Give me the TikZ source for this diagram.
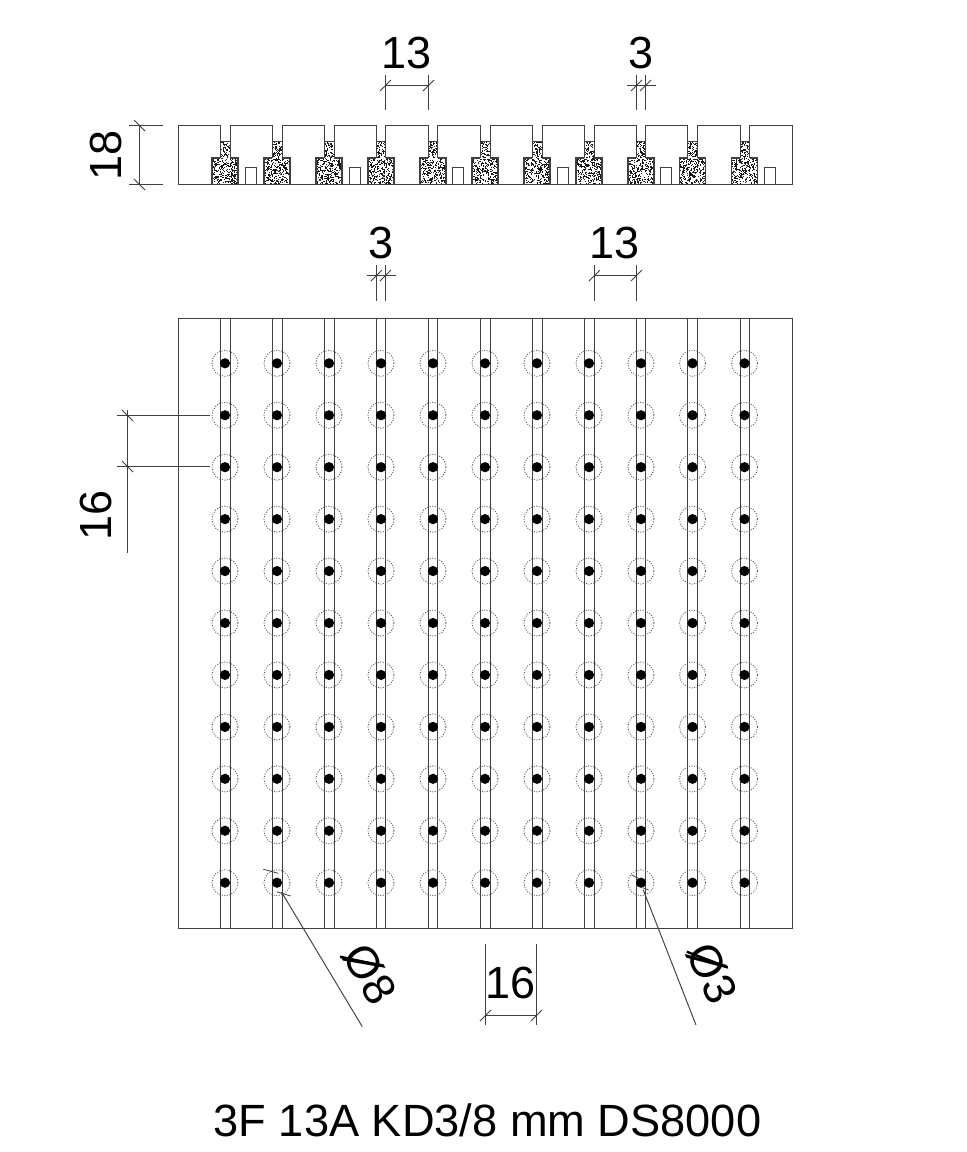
\documentclass[tikz,border=0pt]{standalone}
\usepackage{fontspec}
\setmainfont{Liberation Sans}
\definecolor{ink}{HTML}{404040}
\tikzset{
  outline/.style={draw=ink,line width=1.35pt},
  thin dim/.style={draw=ink,line width=0.95pt},
  tickmark/.style={draw=ink,line width=0.8pt},
  hole ring/.style={draw=black!65,line width=0.85pt,dash pattern=on 1pt off 1.5pt},
  hole dot/.style={fill=black},
  big/.style={inner sep=0pt,font=\fontsize{45}{50}\selectfont,text=black},
  title text/.style={inner sep=0pt,font=\fontsize{45.2}{50}\selectfont,text=black},
  slash/.style={draw=black,line width=2.4pt}
}
\newcommand{\stipple}[4]{%
  \pgfmathsetmacro{\stw}{(#3)-(#1)}\pgfmathsetmacro{\sth}{(#4)-(#2)}%
  \pgfmathtruncatemacro{\stn}{\stw*\sth*0.36}%
  \foreach \si in {1,...,\stn}{%
    \pgfmathsetmacro{\sx}{(#1)+rnd*(\stw-1.1)}\pgfmathsetmacro{\sy}{(#2)+rnd*(\sth-1.1)}%
    \fill[black!90] (\sx,\sy) rectangle ++(1.1,1.1);}}
% x1 x2 ydim ytop ybot overhang
\newcommand{\hdim}[6]{%
  \draw[thin dim] (#1,#4) -- (#1,#5) (#2,#4) -- (#2,#5);
  \draw[thin dim] (#1-#6,#3) -- (#2+#6,#3);
  \draw[tickmark] (#1-5.5,#3+5.5) -- (#1+5.5,#3-5.5) (#2-5.5,#3+5.5) -- (#2+5.5,#3-5.5);}
\begin{document}
\begin{tikzpicture}[x=1pt,y=-1pt]
\useasboundingbox (0,0) rectangle (967,1152);
\fill[white] (0,0) rectangle (967,1152);
\pgfmathsetseed{4711}
% ---- section view
\foreach \c in {225,277,329,381,433,485,537,589,641,692.5,744.5}{
  \stipple{\c-5}{141.5}{\c+5}{158}
  \stipple{\c-13}{158}{\c+13}{184.5}
  \draw[outline] (\c-5,141.5) -- (\c+5,141.5);
  \draw[outline,line width=1.1pt] (\c-5,158) -- (\c-13,158) -- (\c-13,184.5) (\c+5,158) -- (\c+13,158) -- (\c+13,184.5);
}
\foreach \l/\r in {178.5/220.5,230.5/272.5,282.5/324.5,334.5/376.5,385.5/428.5,437.5/480.5,490.5/532.5,542.5/584.5,594.5/636.5,645.5/687.5,697.5/740.5,749.5/792.5}{
  \draw[outline] (\l,158) -- (\l,125.5) -- (\r,125.5) -- (\r,158);
}
\draw[outline] (178.5,158) -- (178.5,184.5) -- (792.5,184.5) -- (792.5,158);
\foreach \c in {251,355,458,563,666,770}{
  \draw[outline,line width=1.1pt] (\c-5.5,184.5) -- (\c-5.5,167.5) -- (\c+5.5,167.5) -- (\c+5.5,184.5);
}
% ---- plan view
\draw[outline] (178.5,318.5) rectangle (792.5,928.5);
\foreach \l/\r in {220.5/230.5,272.5/282.5,324.5/334.5,376.5/385.5,428.5/437.5,480.5/490.5,532.5/542.5,584.5/594.5,636.5/645.5,687.5/697.5,740.5/749.5}{
  \draw[outline] (\l,318.5) -- (\l,928.5) (\r,318.5) -- (\r,928.5);
}
\foreach \c in {225,277,329,381,433,485,537,589,641,692.5,744.5}{
  \foreach \j in {0,...,10}{
    \pgfmathsetmacro{\yy}{363.3+51.94*\j}
    \draw[hole ring] (\c,\yy) circle (13);
    \fill[hole dot] (\c,\yy) circle (5.1);
  }
}
% ---- dimensions
\hdim{385.5}{428.5}{85.5}{75}{109.5}{0}
\node[big] (t13a) at (406.5,53) {13};
\hdim{636.5}{645.5}{85.5}{75}{110}{10}
\node[big] (t3a) at (641,53) {3};
\hdim{376.5}{385.5}{275.5}{265}{301}{10}
\node[big] (t3b) at (381.5,243) {3};
\hdim{594.5}{636.5}{275.5}{265}{301}{0}
\node[big] (t13b) at (614.5,243) {13};
\hdim{485.5}{536.5}{1015.5}{944}{1025}{0}
\node[big] (t16b) at (511,983) {16};
% 18
\draw[thin dim] (129,125.5) -- (162.5,125.5) (129,184.5) -- (162.5,184.5);
\draw[thin dim] (139.5,125.5) -- (139.5,184.5);
\draw[tickmark] (134,120) -- (145,131) (134,179) -- (145,190);
\node[big,rotate=90] (t18) at (106.5,155) {18};
% 16 left
\draw[thin dim] (116.7,415.5) -- (210,415.5) (116.7,466.5) -- (210,466.5);
\draw[thin dim] (127.5,410) -- (127.5,552.7);
\draw[tickmark] (122,410) -- (133,421) (122,461) -- (133,472);
\node[big,rotate=90] (t16a) at (96,515) {16};
% diameter 8
\draw[thin dim] (281.5,892) -- (362.3,1026.7);
\draw[tickmark] (263.3,869.3) -- (278.3,873.3) (276.7,891.7) -- (290.7,896);
\node[big,rotate=-60] (td8) at (370,974) {Ø8};
\draw[slash] (340,956.7) -- (383.3,966);
% diameter 3
\draw[thin dim] (643.3,890) -- (696,1025);
\draw[tickmark] (631.7,875) -- (640,879) (642.7,887.7) -- (648.7,890);
\node[big,rotate=-65] (td3) at (712.5,973) {Ø3};
\draw[slash] (686.7,951.7) -- (727.7,967.3);
% ---- title
\node[title text] (title) at (487.5,1120) {3F 13A KD3/8 mm DS8000};
\end{tikzpicture}
\end{document}
